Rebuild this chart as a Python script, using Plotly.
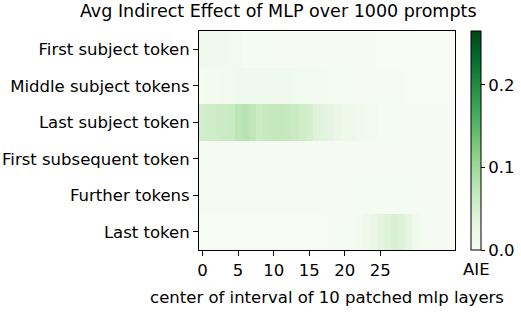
import plotly.graph_objects as go

rows = ["First subject token", "Middle subject tokens", "Last subject token",
        "First subsequent token", "Further tokens", "Last token"]
layers = list(range(36))

first_subject = [0.016, 0.014, 0.013, 0.012, 0.011, 0.009, 0.006, 0.005, 0.005, 0.005, 0.004, 0.004,
                 0.004, 0.004, 0.004, 0.004, 0.004, 0.003, 0.003, 0.003, 0.003, 0.003, 0.003, 0.003,
                 0.003, 0.002, 0.002, 0.002, 0.002, 0.002, 0.002, 0.002, 0.002, 0.002, 0.002, 0.002]
middle_subject = [0.006, 0.007, 0.008, 0.009, 0.010, 0.012, 0.013, 0.013, 0.013, 0.012, 0.012, 0.012,
                  0.012, 0.011, 0.011, 0.010, 0.009, 0.007, 0.006, 0.006, 0.005, 0.005, 0.004, 0.004,
                  0.003, 0.003, 0.003, 0.003, 0.003, 0.002, 0.002, 0.002, 0.002, 0.002, 0.002, 0.002]
last_subject = [0.054, 0.056, 0.057, 0.062, 0.064, 0.074, 0.078, 0.072, 0.062, 0.066, 0.068, 0.068,
                0.066, 0.064, 0.056, 0.052, 0.040, 0.036, 0.032, 0.024, 0.020, 0.018, 0.012, 0.010,
                0.009, 0.005, 0.005, 0.004, 0.004, 0.004, 0.004, 0.003, 0.003, 0.003, 0.003, 0.003]
first_subsequent = [0.004, 0.003, 0.003, 0.003, 0.003, 0.003, 0.003, 0.003, 0.003, 0.003, 0.003, 0.003,
                    0.003, 0.003, 0.003, 0.003, 0.003, 0.003, 0.004, 0.004, 0.004, 0.004, 0.004, 0.004,
                    0.004, 0.004, 0.004, 0.004, 0.004, 0.003, 0.003, 0.003, 0.003, 0.003, 0.003, 0.003]
further = [0.003, 0.003, 0.003, 0.003, 0.003, 0.003, 0.003, 0.003, 0.003, 0.003, 0.003, 0.003,
           0.003, 0.003, 0.003, 0.003, 0.003, 0.003, 0.003, 0.003, 0.003, 0.004, 0.004, 0.005,
           0.005, 0.006, 0.006, 0.005, 0.005, 0.004, 0.004, 0.003, 0.003, 0.003, 0.003, 0.003]
last_token = [0.002, 0.002, 0.002, 0.002, 0.002, 0.002, 0.002, 0.002, 0.002, 0.002, 0.002, 0.002,
              0.002, 0.002, 0.002, 0.002, 0.002, 0.002, 0.003, 0.003, 0.004, 0.005, 0.008, 0.016,
              0.024, 0.032, 0.040, 0.046, 0.042, 0.032, 0.014, 0.006, 0.004, 0.003, 0.003, 0.003]

z = [first_subject, middle_subject, last_subject, first_subsequent, further, last_token]

greens = [[0.0, "#f7fcf5"], [0.125, "#e5f5e0"], [0.25, "#c7e9c0"], [0.375, "#a1d99b"],
          [0.5, "#74c476"], [0.625, "#41ab5d"], [0.75, "#238b45"], [0.875, "#006d2c"],
          [1.0, "#00441b"]]

font = "DejaVu Sans"
fs = 16.5
PW = 256  # plot width in px

fig = go.Figure(go.Heatmap(
    z=z, x=layers, y=rows, colorscale=greens, zmin=0, zmax=0.265,
    colorbar=dict(
        thickness=10, len=1.0, lenmode="fraction", x=(471 - 199) / PW, xanchor="left",
        xpad=0, ypad=0, y=0.5, yanchor="middle", outlinewidth=1, outlinecolor="black",
        tickvals=[0.0, 0.1, 0.2], ticktext=["0.0", "0.1", "0.2"],
        ticks="outside", ticklen=4, tickcolor="black",
        tickfont=dict(family=font, size=fs, color="black"),
    ),
))

fig.update_layout(
    width=521, height=316,
    margin=dict(l=199, r=66, t=31, b=66, autoexpand=False),
    paper_bgcolor="white", plot_bgcolor="white",
    title=dict(text="Avg Indirect Effect of MLP over 1000 prompts", x=0.534, xanchor="center",
               xref="container", y=0.985, yanchor="top",
               font=dict(family=font, size=17.5, color="black")),
    font=dict(family=font, size=fs, color="black"),
    annotations=[dict(text="AIE", xref="paper", yref="paper", x=(476 - 199) / PW, y=-0.035,
                      xanchor="center", yanchor="top", showarrow=False,
                      font=dict(family=font, size=fs, color="black"))],
)
fig.update_xaxes(
    range=[-0.5, 35.5], tickvals=[0, 5, 10, 15, 20, 25], ticks="outside", ticklen=5,
    tickcolor="black", showline=True, linecolor="black", linewidth=1, mirror=True,
    showgrid=False, zeroline=False,
    title=dict(text="center of interval of 10 patched mlp layers", standoff=12,
               font=dict(family=font, size=fs, color="black")),
    tickfont=dict(family=font, size=fs, color="black"),
)
fig.update_yaxes(
    autorange="reversed", ticks="outside", ticklen=5, tickcolor="black",
    showline=True, linecolor="black", linewidth=1, mirror=True, showgrid=False,
    zeroline=False, tickfont=dict(family=font, size=fs, color="black"),
)

fig.write_html("out.html", config={"displayModeBar": False},
               post_script="document.body.style.margin='0';")
